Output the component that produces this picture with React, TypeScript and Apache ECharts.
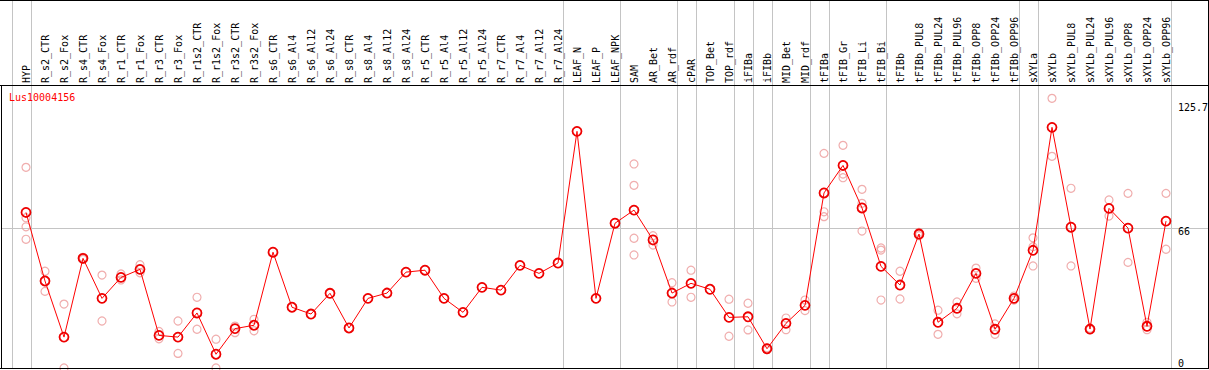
import React, { useEffect, useRef } from 'react';
import * as echarts from 'echarts';

const geneName = 'Lus10004156';

const categories = [
  'HYP', 'R_s2_CTR', 'R_s2_Fox', 'R_s4_CTR', 'R_s4_Fox', 'R_r1_CTR', 'R_r1_Fox', 'R_r3_CTR', 'R_r3_Fox',
  'R_r1s2_CTR', 'R_r1s2_Fox', 'R_r3s2_CTR', 'R_r3s2_Fox', 'R_s6_CTR', 'R_s6_Al4', 'R_s6_Al12', 'R_s6_Al24',
  'R_s8_CTR', 'R_s8_Al4', 'R_s8_Al12', 'R_s8_Al24', 'R_r5_CTR', 'R_r5_Al4', 'R_r5_Al12', 'R_r5_Al24',
  'R_r7_CTR', 'R_r7_Al4', 'R_r7_Al12', 'R_r7_Al24', 'LEAF_N', 'LEAF_P', 'LEAF_NPK', 'SAM', 'AR_Bet', 'AR_rdf',
  'cPAR', 'TOP_Bet', 'TOP_rdf', 'iFIBa', 'iFIBb', 'MID_Bet', 'MID_rdf', 'tFIBa', 'tFIB_Gr', 'tFIB_Li', 'tFIB_Bi',
  'tFIBb', 'tFIBb_PUL8', 'tFIBb_PUL24', 'tFIBb_PUL96', 'tFIBb_OPP8', 'tFIBb_OPP24', 'tFIBb_OPP96',
  'sXYLa', 'sXYLb', 'sXYLb_PUL8', 'sXYLb_PUL24', 'sXYLb_PUL96', 'sXYLb_OPP8', 'sXYLb_OPP24', 'sXYLb_OPP96',
];

const means = [
  73.5, 41.1, 14.6, 51.8, 32.9, 42.8, 46.6, 15.4, 14.6,
  26.0, 6.5, 18.6, 20.2, 54.7, 28.7, 25.5, 35.3,
  18.9, 32.9, 35.4, 45.3, 46.2, 32.9, 26.3, 38.1,
  36.8, 48.5, 44.7, 49.6, 111.8, 32.9, 68.4, 74.6, 60.5, 35.4,
  40.0, 37.2, 23.9, 24.2, 9.1, 21.1, 29.6, 82.7, 95.7, 75.6, 48.0,
  39.2, 63.3, 21.6, 28.2, 44.7, 18.3, 32.9,
  55.6, 113.7, 66.5, 18.4, 75.4, 66.1, 19.7, 69.4,
];

const replicates: number[][] = [
  [94.8, 71.0, 66.7, 60.8], [45.7, 36.2], [30.2, 0], [52.3, 51.3], [43.9, 22.2], [44.4, 41.6], [48.8, 45.0], [17.3, 13.8], [22.2, 6.9],
  [33.4, 18.3], [13.6, 0], [19.8, 16.7], [23.0, 17.6], [], [], [], [],
  [], [], [], [], [], [], [], [],
  [], [], [], [], [], [], [], [96.4, 86.3, 61.3, 53.4], [62.5, 58.1], [40.3, 31.2],
  [46.2, 33.4], [], [32.5, 15.0], [30.6, 18.0], [9.5, 8.7], [23.6, 18.1], [32.1, 27.1], [101.4, 73.8, 71.5], [105.2, 91.6, 89.9], [84.4, 77.8, 64.7], [56.7, 55.7, 32.1],
  [45.7, 32.6], [64.1, 62.5], [27.3, 15.9], [31.2, 25.6], [47.2, 42.4], [20.8, 15.9], [34.0, 32.1],
  [61.5, 57.3, 48.2], [127.4, 100.0], [84.9, 48.2], [18.7, 18.1], [79.4, 71.8], [82.5, 49.9], [21.6, 18.1], [82.5, 56.1],
];

const yTickLabels = [125.7, 66, 0];
const guideValue = 66;
const groupEnds = [
  'HYP', 'R_r7_Al24', 'LEAF_NPK', 'AR_rdf', 'cPAR', 'TOP_rdf', 'iFIBa', 'iFIBb', 'MID_rdf',
  'tFIBa', 'tFIB_Bi', 'tFIBb_OPP96', 'sXYLa', 'sXYLb_OPP96',
];

const FONT = 'DejaVu Sans Mono';
const W = 1209;
const H = 370;

export default function App() {
  const ref = useRef<HTMLDivElement>(null);
  useEffect(() => {
    const chart = echarts.init(ref.current!, null, { renderer: 'svg' });
    const repData: [number, number][] = [];
    replicates.forEach((reps, i) => reps.forEach((v) => repData.push([i, v])));

    chart.setOption({
      animation: false,
      title: {
        text: geneName,
        left: 9,
        top: 92,
        padding: 0,
        textStyle: { fontSize: 10, fontFamily: FONT, color: '#ff0000', fontWeight: 'normal' },
      },
      grid: { left: 16.5, right: 33.5, top: 85, bottom: 2, containLabel: false },
      xAxis: {
        type: 'category',
        position: 'top',
        data: categories,
        boundaryGap: true,
        axisLine: { show: false },
        axisTick: { show: false },
        splitLine: { show: false },
        axisLabel: {
          rotate: 90,
          interval: 0,
          margin: 2,
          fontSize: 10,
          fontFamily: FONT,
          color: '#000',
        },
      },
      yAxis: {
        type: 'value',
        min: 0,
        max: 133.7,
        position: 'right',
        axisLine: { show: false },
        axisTick: { show: false },
        axisLabel: { show: false },
        splitLine: { show: false },
      },
      series: [
        {
          type: 'scatter',
          data: repData,
          symbol: 'circle',
          symbolSize: 8,
          itemStyle: { color: 'rgba(0,0,0,0)', borderColor: '#ec9a9a', borderWidth: 1.2 },
          z: 2,
          silent: true,
        },
        {
          type: 'line',
          data: means,
          symbol: 'circle',
          symbolSize: 9,
          showAllSymbol: true,
          lineStyle: { color: '#ff0000', width: 1 },
          itemStyle: { color: 'rgba(0,0,0,0)', borderColor: '#ee0000', borderWidth: 1.8 },
          z: 3,
          silent: true,
        },
      ],
    });

    const px = (i: number | string) => chart.convertToPixel({ xAxisIndex: 0 }, i) as number;
    const py = (v: number) => chart.convertToPixel({ yAxisIndex: 0 }, v) as number;
    const step = px(1) - px(0);
    const sepXs = [px(0) - step + 4.5, ...groupEnds.map((n) => px(n) + 4.5)];
    const gray = '#c4c4c4';
    const graphics: any[] = [];
    sepXs.forEach((x) => {
      const xx = Math.round(x) + 0.5;
      graphics.push({
        type: 'line', silent: true, z: 0,
        shape: { x1: xx, y1: 0, x2: xx, y2: 368 },
        style: { stroke: gray, lineWidth: 1 },
      });
    });
    const gy = Math.round(py(guideValue)) + 0.5;
    graphics.push({
      type: 'line', silent: true, z: 0,
      shape: { x1: 1, y1: gy, x2: 1208, y2: gy },
      style: { stroke: gray, lineWidth: 1 },
    });
    const black = '#000';
    const bl = (x1: number, y1: number, x2: number, y2: number) =>
      graphics.push({ type: 'line', silent: true, z: 10, shape: { x1, y1, x2, y2 }, style: { stroke: black, lineWidth: 1 } });
    bl(0, 0.5, W, 0.5);
    bl(0, 85.5, W, 85.5);
    bl(0, 368.5, W, 368.5);
    bl(1.5, 85, 1.5, 369);
    bl(1208.5, 0, 1208.5, 369);
    yTickLabels.forEach((v, k) => {
      const y = py(v);
      const isMin = v === 0;
      graphics.push({
        type: 'text', silent: true, z: 10,
        x: 1178,
        y: isMin ? y : y + (k === 0 ? 0.5 : -1.5),
        style: {
          text: String(v),
          fontSize: 10,
          fontFamily: FONT,
          fill: '#000',
          textAlign: 'left',
          textVerticalAlign: isMin ? 'bottom' : 'top',
        },
      });
    });
    chart.setOption({ graphic: graphics });

    return () => chart.dispose();
  }, []);
  return (
    <div
      ref={ref}
      style={{ position: 'fixed', left: 0, top: 0, width: W, height: H, background: '#fff' }}
    />
  );
}
